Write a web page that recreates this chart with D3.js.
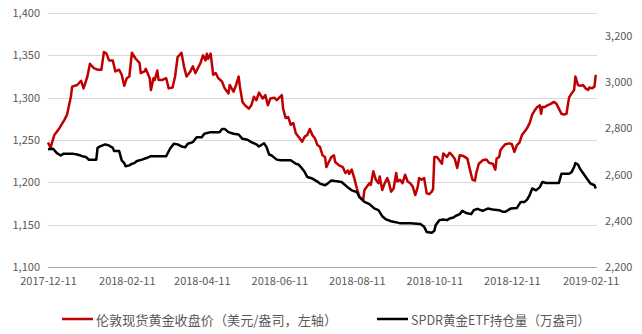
<!DOCTYPE html>
<html>
<head>
<meta charset="utf-8">
<script src="https://cdn.jsdelivr.net/npm/d3@7/dist/d3.min.js"></script>
<style>
  html, body { margin: 0; padding: 0; background: #fff; }
  svg { display: block; }
  text { font-family: "Microsoft YaHei", "Noto Sans CJK SC", "Noto Sans", sans-serif; fill: #595959; }
</style>
</head>
<body>
<svg id="chart" width="642" height="334"></svg>
<script>
// ---- Data ----
const goldDates = ["2017-12-11","2017-12-13","2017-12-16","2017-12-20","2017-12-24","2017-12-26","2017-12-29","2017-12-30","2018-01-03","2018-01-06","2018-01-08","2018-01-11","2018-01-13","2018-01-16","2018-01-19","2018-01-22","2018-01-24","2018-01-26","2018-01-28","2018-01-31","2018-02-02","2018-02-05","2018-02-07","2018-02-09","2018-02-11","2018-02-13","2018-02-15","2018-02-18","2018-02-21","2018-02-22","2018-02-25","2018-02-26","2018-03-01","2018-03-02","2018-03-04","2018-03-05","2018-03-07","2018-03-08","2018-03-11","2018-03-14","2018-03-16","2018-03-19","2018-03-21","2018-03-23","2018-03-26","2018-03-28","2018-03-30","2018-04-02","2018-04-04","2018-04-06","2018-04-08","2018-04-10","2018-04-12","2018-04-14","2018-04-15","2018-04-16","2018-04-18","2018-04-20","2018-04-22","2018-04-24","2018-04-27","2018-04-29","2018-05-02","2018-05-03","2018-05-06","2018-05-08","2018-05-10","2018-05-11","2018-05-13","2018-05-15","2018-05-18","2018-05-20","2018-05-22","2018-05-24","2018-05-26","2018-05-29","2018-05-31","2018-06-02","2018-06-04","2018-06-07","2018-06-09","2018-06-11","2018-06-13","2018-06-14","2018-06-16","2018-06-18","2018-06-20","2018-06-22","2018-06-24","2018-06-27","2018-06-29","2018-07-01","2018-07-03","2018-07-05","2018-07-07","2018-07-09","2018-07-11","2018-07-13","2018-07-15","2018-07-17","2018-07-18","2018-07-20","2018-07-22","2018-07-24","2018-07-25","2018-07-28","2018-07-31","2018-08-02","2018-08-04","2018-08-05","2018-08-07","2018-08-09","2018-08-11","2018-08-13","2018-08-16","2018-08-17","2018-08-19","2018-08-21","2018-08-22","2018-08-24","2018-08-26","2018-08-28","2018-08-29","2018-08-31","2018-09-02","2018-09-04","2018-09-05","2018-09-07","2018-09-09","2018-09-11","2018-09-12","2018-09-14","2018-09-16","2018-09-18","2018-09-20","2018-09-22","2018-09-24","2018-09-26","2018-09-28","2018-09-29","2018-10-01","2018-10-03","2018-10-05","2018-10-07","2018-10-09","2018-10-10","2018-10-11","2018-10-13","2018-10-15","2018-10-17","2018-10-18","2018-10-21","2018-10-23","2018-10-25","2018-10-27","2018-10-29","2018-10-31","2018-11-03","2018-11-06","2018-11-08","2018-11-10","2018-11-12","2018-11-13","2018-11-15","2018-11-18","2018-11-21","2018-11-23","2018-11-26","2018-11-28","2018-11-29","2018-12-01","2018-12-02","2018-12-04","2018-12-06","2018-12-09","2018-12-11","2018-12-13","2018-12-15","2018-12-17","2018-12-19","2018-12-21","2018-12-23","2018-12-25","2018-12-27","2018-12-29","2018-12-31","2019-01-02","2019-01-03","2019-01-04","2019-01-06","2019-01-08","2019-01-11","2019-01-13","2019-01-15","2019-01-17","2019-01-19","2019-01-21","2019-01-23","2019-01-25","2019-01-27","2019-01-29","2019-01-30","2019-02-01","2019-02-03","2019-02-05","2019-02-07","2019-02-09","2019-02-10","2019-02-12","2019-02-14","2019-02-15"];
const goldValues = [1247,1241,1256,1264,1274,1280,1301,1313,1315,1320,1311,1325,1340,1335,1333,1333,1354,1352,1344,1344,1331,1333,1327,1314,1323,1325,1353,1346,1341,1329,1331,1334,1323,1309,1323,1321,1332,1321,1321,1323,1311,1312,1325,1348,1353,1337,1325,1331,1337,1329,1335,1341,1350,1344,1352,1346,1352,1327,1329,1323,1319,1311,1305,1315,1307,1315,1325,1313,1295,1291,1287,1291,1301,1297,1306,1299,1303,1291,1299,1300,1297,1300,1303,1287,1276,1277,1268,1270,1258,1252,1248,1254,1256,1263,1256,1252,1244,1242,1232,1230,1218,1224,1230,1232,1224,1220,1218,1211,1214,1210,1215,1205,1193,1183,1179,1191,1195,1199,1197,1213,1203,1199,1207,1191,1199,1205,1201,1189,1193,1211,1201,1203,1199,1209,1201,1199,1195,1185,1195,1205,1203,1205,1187,1186,1189,1192,1230,1230,1226,1222,1234,1230,1235,1232,1228,1217,1232,1231,1228,1215,1203,1202,1211,1222,1226,1227,1223,1222,1215,1228,1230,1238,1242,1245,1246,1245,1236,1244,1247,1256,1260,1264,1270,1280,1285,1289,1291,1281,1289,1289,1291,1293,1295,1293,1287,1281,1280,1281,1300,1305,1309,1325,1315,1314,1315,1311,1309,1312,1311,1313,1327];

const etfDates = ["2017-12-11","2017-12-15","2017-12-18","2017-12-21","2017-12-23","2017-12-31","2018-01-03","2018-01-07","2018-01-10","2018-01-12","2018-01-18","2018-01-19","2018-01-21","2018-01-25","2018-01-28","2018-01-31","2018-02-01","2018-02-05","2018-02-07","2018-02-09","2018-02-10","2018-02-13","2018-02-15","2018-02-17","2018-02-19","2018-02-23","2018-02-27","2018-03-02","2018-03-14","2018-03-17","2018-03-20","2018-03-23","2018-03-26","2018-03-29","2018-03-31","2018-04-04","2018-04-07","2018-04-11","2018-04-13","2018-04-18","2018-04-25","2018-04-27","2018-04-29","2018-05-02","2018-05-06","2018-05-10","2018-05-13","2018-05-17","2018-05-20","2018-05-24","2018-05-26","2018-05-30","2018-06-01","2018-06-03","2018-06-05","2018-06-09","2018-06-12","2018-06-20","2018-06-24","2018-06-26","2018-06-28","2018-07-01","2018-07-03","2018-07-07","2018-07-11","2018-07-13","2018-07-17","2018-07-19","2018-07-22","2018-07-25","2018-07-30","2018-08-03","2018-08-07","2018-08-11","2018-08-13","2018-08-17","2018-08-21","2018-08-25","2018-08-28","2018-08-31","2018-09-03","2018-09-07","2018-09-13","2018-09-15","2018-09-22","2018-09-30","2018-10-03","2018-10-05","2018-10-09","2018-10-11","2018-10-12","2018-10-15","2018-10-18","2018-10-21","2018-10-23","2018-10-26","2018-10-28","2018-10-31","2018-11-02","2018-11-05","2018-11-09","2018-11-11","2018-11-14","2018-11-18","2018-11-22","2018-11-26","2018-12-01","2018-12-04","2018-12-06","2018-12-10","2018-12-15","2018-12-18","2018-12-21","2018-12-23","2018-12-25","2018-12-27","2018-12-30","2019-01-02","2019-01-04","2019-01-07","2019-01-17","2019-01-19","2019-01-25","2019-01-27","2019-01-29","2019-01-30","2019-02-01","2019-02-03","2019-02-05","2019-02-08","2019-02-11","2019-02-14","2019-02-15"];
const etfValues = [2710,2712,2693,2683,2690,2690,2687,2680,2676,2665,2665,2716,2722,2731,2726,2716,2702,2702,2662,2650,2636,2640,2647,2650,2659,2665,2673,2680,2680,2712,2734,2731,2722,2719,2734,2741,2762,2762,2777,2784,2784,2798,2798,2784,2777,2774,2755,2751,2741,2731,2722,2736,2719,2687,2683,2665,2662,2662,2647,2644,2633,2611,2590,2583,2570,2561,2554,2561,2575,2572,2568,2549,2532,2525,2503,2482,2472,2453,2446,2420,2406,2398,2391,2389,2389,2386,2374,2352,2348,2357,2381,2403,2406,2403,2410,2414,2422,2429,2443,2434,2429,2446,2452,2443,2453,2449,2446,2439,2439,2453,2456,2482,2482,2492,2511,2540,2532,2546,2568,2564,2564,2604,2604,2611,2633,2650,2644,2622,2607,2583,2561,2554,2540];

const xTickLabels = ["2017-12-11","2018-02-11","2018-04-11","2018-06-11","2018-08-11","2018-10-11","2018-12-11","2019-02-11"];
const xDomain = ["2017-12-11","2019-02-16"];
const leftTicks = [1100,1150,1200,1250,1300,1350,1400];
const leftDomain = [1100,1400];
const rightTicks = [2200,2400,2600,2800,3000,3200];
const rightDomain = [2200,3300];
const seriesNames = ["伦敦现货黄金收盘价（美元/盎司，左轴）","SPDR黄金ETF持仓量（万盎司）"];
const seriesColors = ["#C00000","#000000"];

// ---- Layout ----
const svg = d3.select("#chart");
const L = 48, R = 597, T = 13, B = 267;
const parse = d3.timeParse("%Y-%m-%d");
const fmt = d3.timeFormat("%Y-%m-%d");

const x = d3.scaleTime().domain(xDomain.map(parse)).range([L, R]);
const yL = d3.scaleLinear().domain(leftDomain).range([B, T]);
const yR = d3.scaleLinear().domain(rightDomain).range([B, T]);

// gridlines
svg.append("g").selectAll("line").data(leftTicks).join("line")
  .attr("x1", L).attr("x2", R)
  .attr("y1", d => Math.round(yL(d)) + 0.5).attr("y2", d => Math.round(yL(d)) + 0.5)
  .attr("stroke", d => d === leftDomain[0] ? "#a6a6a6" : "#d9d9d9")
  .attr("stroke-width", 1);

// left axis
const gl = svg.append("g").attr("transform", `translate(${L},0)`)
  .call(d3.axisLeft(yL).tickValues(leftTicks).tickFormat(d3.format(",")).tickSize(0).tickPadding(8));
gl.select(".domain").remove();
gl.selectAll("text").style("font-size", "11px").attr("fill", "#595959");

// right axis
const gr = svg.append("g").attr("transform", `translate(${R},0)`)
  .call(d3.axisRight(yR).tickValues(rightTicks).tickFormat(d3.format(",")).tickSize(0).tickPadding(8));
gr.select(".domain").remove();
gr.selectAll("text").style("font-size", "11px").attr("fill", "#595959");

// bottom axis
const gb = svg.append("g").attr("transform", `translate(0,${B})`)
  .call(d3.axisBottom(x).tickValues(xTickLabels.map(parse)).tickFormat(fmt).tickSize(0).tickPadding(10));
gb.select(".domain").remove();
gb.selectAll("text").style("font-size", "11px").attr("fill", "#595959");

// lines
const goldData = goldDates.map((d, i) => ({ date: parse(d), v: goldValues[i] }));
const etfData = etfDates.map((d, i) => ({ date: parse(d), v: etfValues[i] }));

svg.append("path").datum(goldData)
  .attr("fill", "none").attr("stroke", seriesColors[0]).attr("stroke-width", 2.5)
  .attr("stroke-linejoin", "round")
  .attr("d", d3.line().x(d => x(d.date)).y(d => yL(d.v)));

svg.append("path").datum(etfData)
  .attr("fill", "none").attr("stroke", seriesColors[1]).attr("stroke-width", 2.5)
  .attr("stroke-linejoin", "round")
  .attr("d", d3.line().x(d => x(d.date)).y(d => yR(d.v)));

// legend
const legendItems = [
  { name: seriesNames[0], color: seriesColors[0], x0: 62, w: 241 },
  { name: seriesNames[1], color: seriesColors[1], x0: 377, w: 179 }
];
const lg = svg.append("g");
legendItems.forEach(it => {
  lg.append("line").attr("x1", it.x0).attr("x2", it.x0 + 31)
    .attr("y1", 319).attr("y2", 319)
    .attr("stroke", it.color).attr("stroke-width", 2.5);
  lg.append("text").attr("x", it.x0 + 34).attr("y", 319)
    .attr("dominant-baseline", "central")
    .attr("textLength", it.w).attr("lengthAdjust", "spacingAndGlyphs")
    .style("font-size", "13px").attr("fill", "#595959")
    .text(it.name);
});
</script>
</body>
</html>
